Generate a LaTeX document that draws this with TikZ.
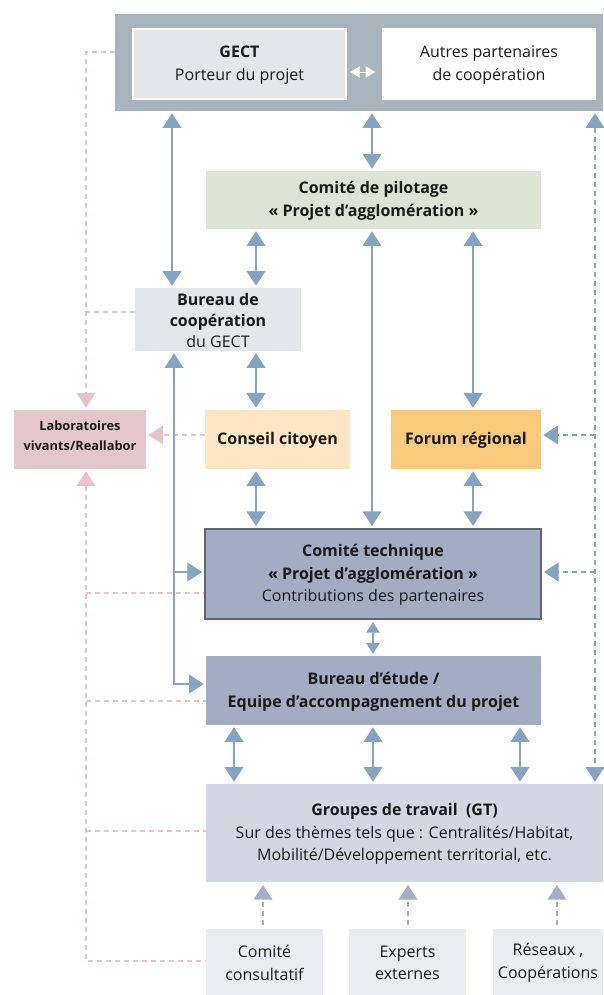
\documentclass[tikz,border=0pt]{standalone}
\usepackage{fontspec}
\setmainfont{Open Sans}
\usetikzlibrary{arrows.meta,fit}
\definecolor{cTop}{HTML}{A9B4BC}
\definecolor{cGect}{HTML}{E3E7EA}
\definecolor{cPil}{HTML}{DEE4D5}
\definecolor{cLab}{HTML}{E3C8CB}
\definecolor{cCons}{HTML}{FDE6C4}
\definecolor{cForum}{HTML}{F9CA7B}
\definecolor{cTech}{HTML}{A3ACC0}
\definecolor{cTechB}{HTML}{5D6770}
\definecolor{cGrp}{HTML}{D3D7E2}
\definecolor{cBot}{HTML}{EBECF1}
\definecolor{cArr}{HTML}{86A3C0}
\definecolor{cPink}{HTML}{E5C5C9}
\definecolor{cDash}{HTML}{A5AEC3}
\definecolor{cTxt}{HTML}{1A1A1A}
\begin{document}
\begin{tikzpicture}[x=0.75pt,y=-0.75pt,
  font=\fontsize{12}{17}\selectfont,
  >={Triangle[width=14pt,length=11pt]},
  bx/.style={inner sep=0pt},
  tx/.style={inner sep=0pt, align=center, text=cTxt},
  barr/.style={draw=cArr, line width=1.3pt, shorten <=1.5pt, shorten >=1.5pt},
  bdash/.style={draw=cArr, line width=1.1pt, dash pattern=on 3.75pt off 3pt, shorten <=1.5pt, shorten >=1.5pt},
  gdash/.style={draw=cDash, line width=1.1pt, dash pattern=on 3.75pt off 3pt, shorten <=3pt, shorten >=2pt},
  pdash/.style={draw=cPink, line width=1.1pt, dash pattern=on 3.75pt off 3pt}]
\useasboundingbox (0,0) rectangle (603,995);
% boxes
\node[bx, fill=cTop, fit={(115,14) (603,111)}] (top) {};
\node[bx, fill=cGect, draw=white, line width=1.5pt, fit={(133,29) (346,99)}] (gect) {};
\node[bx, fill=white, fit={(382,28) (596,100)}] (autres) {};
\node[bx, fill=cPil, fit={(206,171) (541,229)}] (pil) {};
\node[bx, fill=cGect, fit={(135,288) (301,351)}] (bcoop) {};
\node[bx, fill=cLab, fit={(14,410) (146,469)}] (labs) {};
\node[bx, fill=cCons, fit={(205,410) (350,469)}] (cons) {};
\node[bx, fill=cForum, fit={(391,410) (541,469)}] (forum) {};
\node[bx, fill=cTech, draw=cTechB, line width=1.5pt, fit={(205,529) (541,619)}] (tech) {};
\node[bx, fill=cTech, fit={(206,656) (541,725)}] (bet) {};
\node[bx, fill=cGrp, fit={(206,784) (603,882)}] (grp) {};
\node[bx, fill=cBot, fit={(206,929) (323,995)}] (cc) {};
\node[bx, fill=cBot, fit={(349,929) (466,995)}] (exp) {};
\node[bx, fill=cBot, fit={(493,929) (603,995)}] (res) {};
% texts
\node[tx] (gectT) at ([yshift=-0.75pt]gect.center) {\textbf{GECT}\\Porteur du projet};
\node[tx] (autresT) at ([yshift=-0.75pt]autres.center) {Autres partenaires\\de coopération};
\node[tx] (pilT) at ([yshift=-0.75pt]pil.center) {\textbf{Comité de pilotage}\\\textbf{«~Projet d’agglomération~»}};
\node[tx, font=\fontsize{12}{16}\selectfont] (bcoopT) at ([yshift=-0.75pt]bcoop.center) {\textbf{Bureau de}\\\textbf{coopération}\\du GECT};
\node[tx, font=\fontsize{9.6}{15}\selectfont\bfseries] (labsT) at ([yshift=3pt]labs.center) {Laboratoires\\vivants/Reallabor};
\node[tx, font=\fontsize{12}{17}\selectfont\bfseries] (consT) at ([yshift=-0.75pt]cons.center) {Conseil citoyen};
\node[tx, font=\fontsize{12}{17}\selectfont\bfseries] (forumT) at ([yshift=-0.75pt]forum.center) {Forum régional};
\node[tx] (techT) at ([yshift=-0.75pt]tech.center) {\textbf{Comité technique}\\\textbf{«~Projet d’agglomération~»}\\Contributions des partenaires};
\node[tx] (betT) at ([yshift=-0.75pt]bet.center) {\textbf{Bureau d’étude /}\\\textbf{Equipe d’accompagnement du projet}};
\node[tx] (grpT) at ([yshift=-0.75pt]grp.center) {\textbf{Groupes de travail~~(GT)}\\Sur des thèmes tels que : Centralités/Habitat,\\Mobilité/Développement territorial, etc.};
\node[tx] (ccT) at ([yshift=-0.75pt]cc.center) {Comité\\consultatif};
\node[tx] (expT) at ([yshift=-0.75pt]exp.center) {Experts\\externes};
\node[tx] (resT) at ([yshift=-0.75pt]res.center) {Réseaux ,\\Coopérations};
% helper coordinates
\coordinate (xA) at (172,0); \coordinate (xB) at (174,0); \coordinate (xC) at (256,0);
\coordinate (xD) at (372,0); \coordinate (xE) at (473,0); \coordinate (xF) at (595,0);
\coordinate (xG) at (86,0); \coordinate (x1) at (234,0); \coordinate (x2) at (373,0);
\coordinate (x3) at (520,0); \coordinate (xb1) at (263,0); \coordinate (xb2) at (408,0);
\coordinate (xb3) at (557,0);
\coordinate (y52) at (0,52); \coordinate (y72) at (0,72); \coordinate (y312) at (0,312);
\coordinate (y436) at (0,435); \coordinate (y572) at (0,572); \coordinate (y593) at (0,593);
\coordinate (y684) at (0,684); \coordinate (y701) at (0,701); \coordinate (y831) at (0,831);
\coordinate (y961) at (0,961);
% white arrows between GECT and partners
\draw[white, line width=0.1pt, shorten <=2.5pt, shorten >=5pt,
  {Triangle[width=8.5pt,length=7pt]}-{Triangle[width=8.5pt,length=7pt]}]
  (gect.east |- y72) -- (autres.west |- y72);
% pink dashed connectors
\draw[pdash,->,shorten >=1.5pt] (top.west |- y52) -- (xG |- y52) -- (labs.north -| xG);
\draw[pdash] (bcoop.west |- y312) -- (xG |- y312);
\draw[pdash,->,shorten >=1.5pt] (cons.west |- y436) -- (labs.east |- y436);
\draw[pdash,<-,shorten <=1.5pt] (labs.south -| xG) -- (xG |- y961) -- (cc.west |- y961);
\draw[pdash] (xG |- y593) -- (tech.west |- y593);
\draw[pdash] (xG |- y701) -- (bet.west |- y701);
\draw[pdash] (xG |- y831) -- (grp.west |- y831);
% blue connectors
\draw[barr,<->] (top.south -| xA) -- (bcoop.north -| xA);
\draw[barr,<->] (top.south -| xD) -- (pil.north -| xD);
\draw[barr,<->] (pil.south -| xC) -- (bcoop.north -| xC);
\draw[barr,<->] (pil.south -| xD) -- (tech.north -| xD);
\draw[barr,<->] (pil.south -| xE) -- (forum.north -| xE);
\draw[barr,<->] (bcoop.south -| xC) -- (cons.north -| xC);
\draw[barr,<->] (cons.south -| xC) -- (tech.north -| xC);
\draw[barr,<->] (forum.south -| xE) -- (tech.north -| xE);
\draw[barr,<->] (bcoop.south -| xB) -- (xB |- y684) -- (bet.west |- y684);
\draw[barr,->,shorten <=0pt] (xB |- y572) -- (tech.west |- y572);
\draw[barr,{Triangle[width=10pt,length=8pt]}-{Triangle[width=10pt,length=8pt]}] (tech.south -| x2) -- (bet.north -| x2);
\draw[barr,<->] (bet.south -| x1) -- (grp.north -| x1);
\draw[barr,<->] (bet.south -| x2) -- (grp.north -| x2);
\draw[barr,<->] (bet.south -| x3) -- (grp.north -| x3);
% right dashed
\draw[bdash,<->] (top.south -| xF) -- (grp.north -| xF);
\draw[bdash,->,shorten <=0pt] (xF |- y436) -- (forum.east |- y436);
\draw[bdash,->,shorten <=0pt] (xF |- y572) -- (tech.east |- y572);
% bottom dashed
\draw[gdash,->] (cc.north -| xb1) -- (grp.south -| xb1);
\draw[gdash,->] (exp.north -| xb2) -- (grp.south -| xb2);
\draw[gdash,->] (res.north -| xb3) -- (grp.south -| xb3);
\end{tikzpicture}
\end{document}
